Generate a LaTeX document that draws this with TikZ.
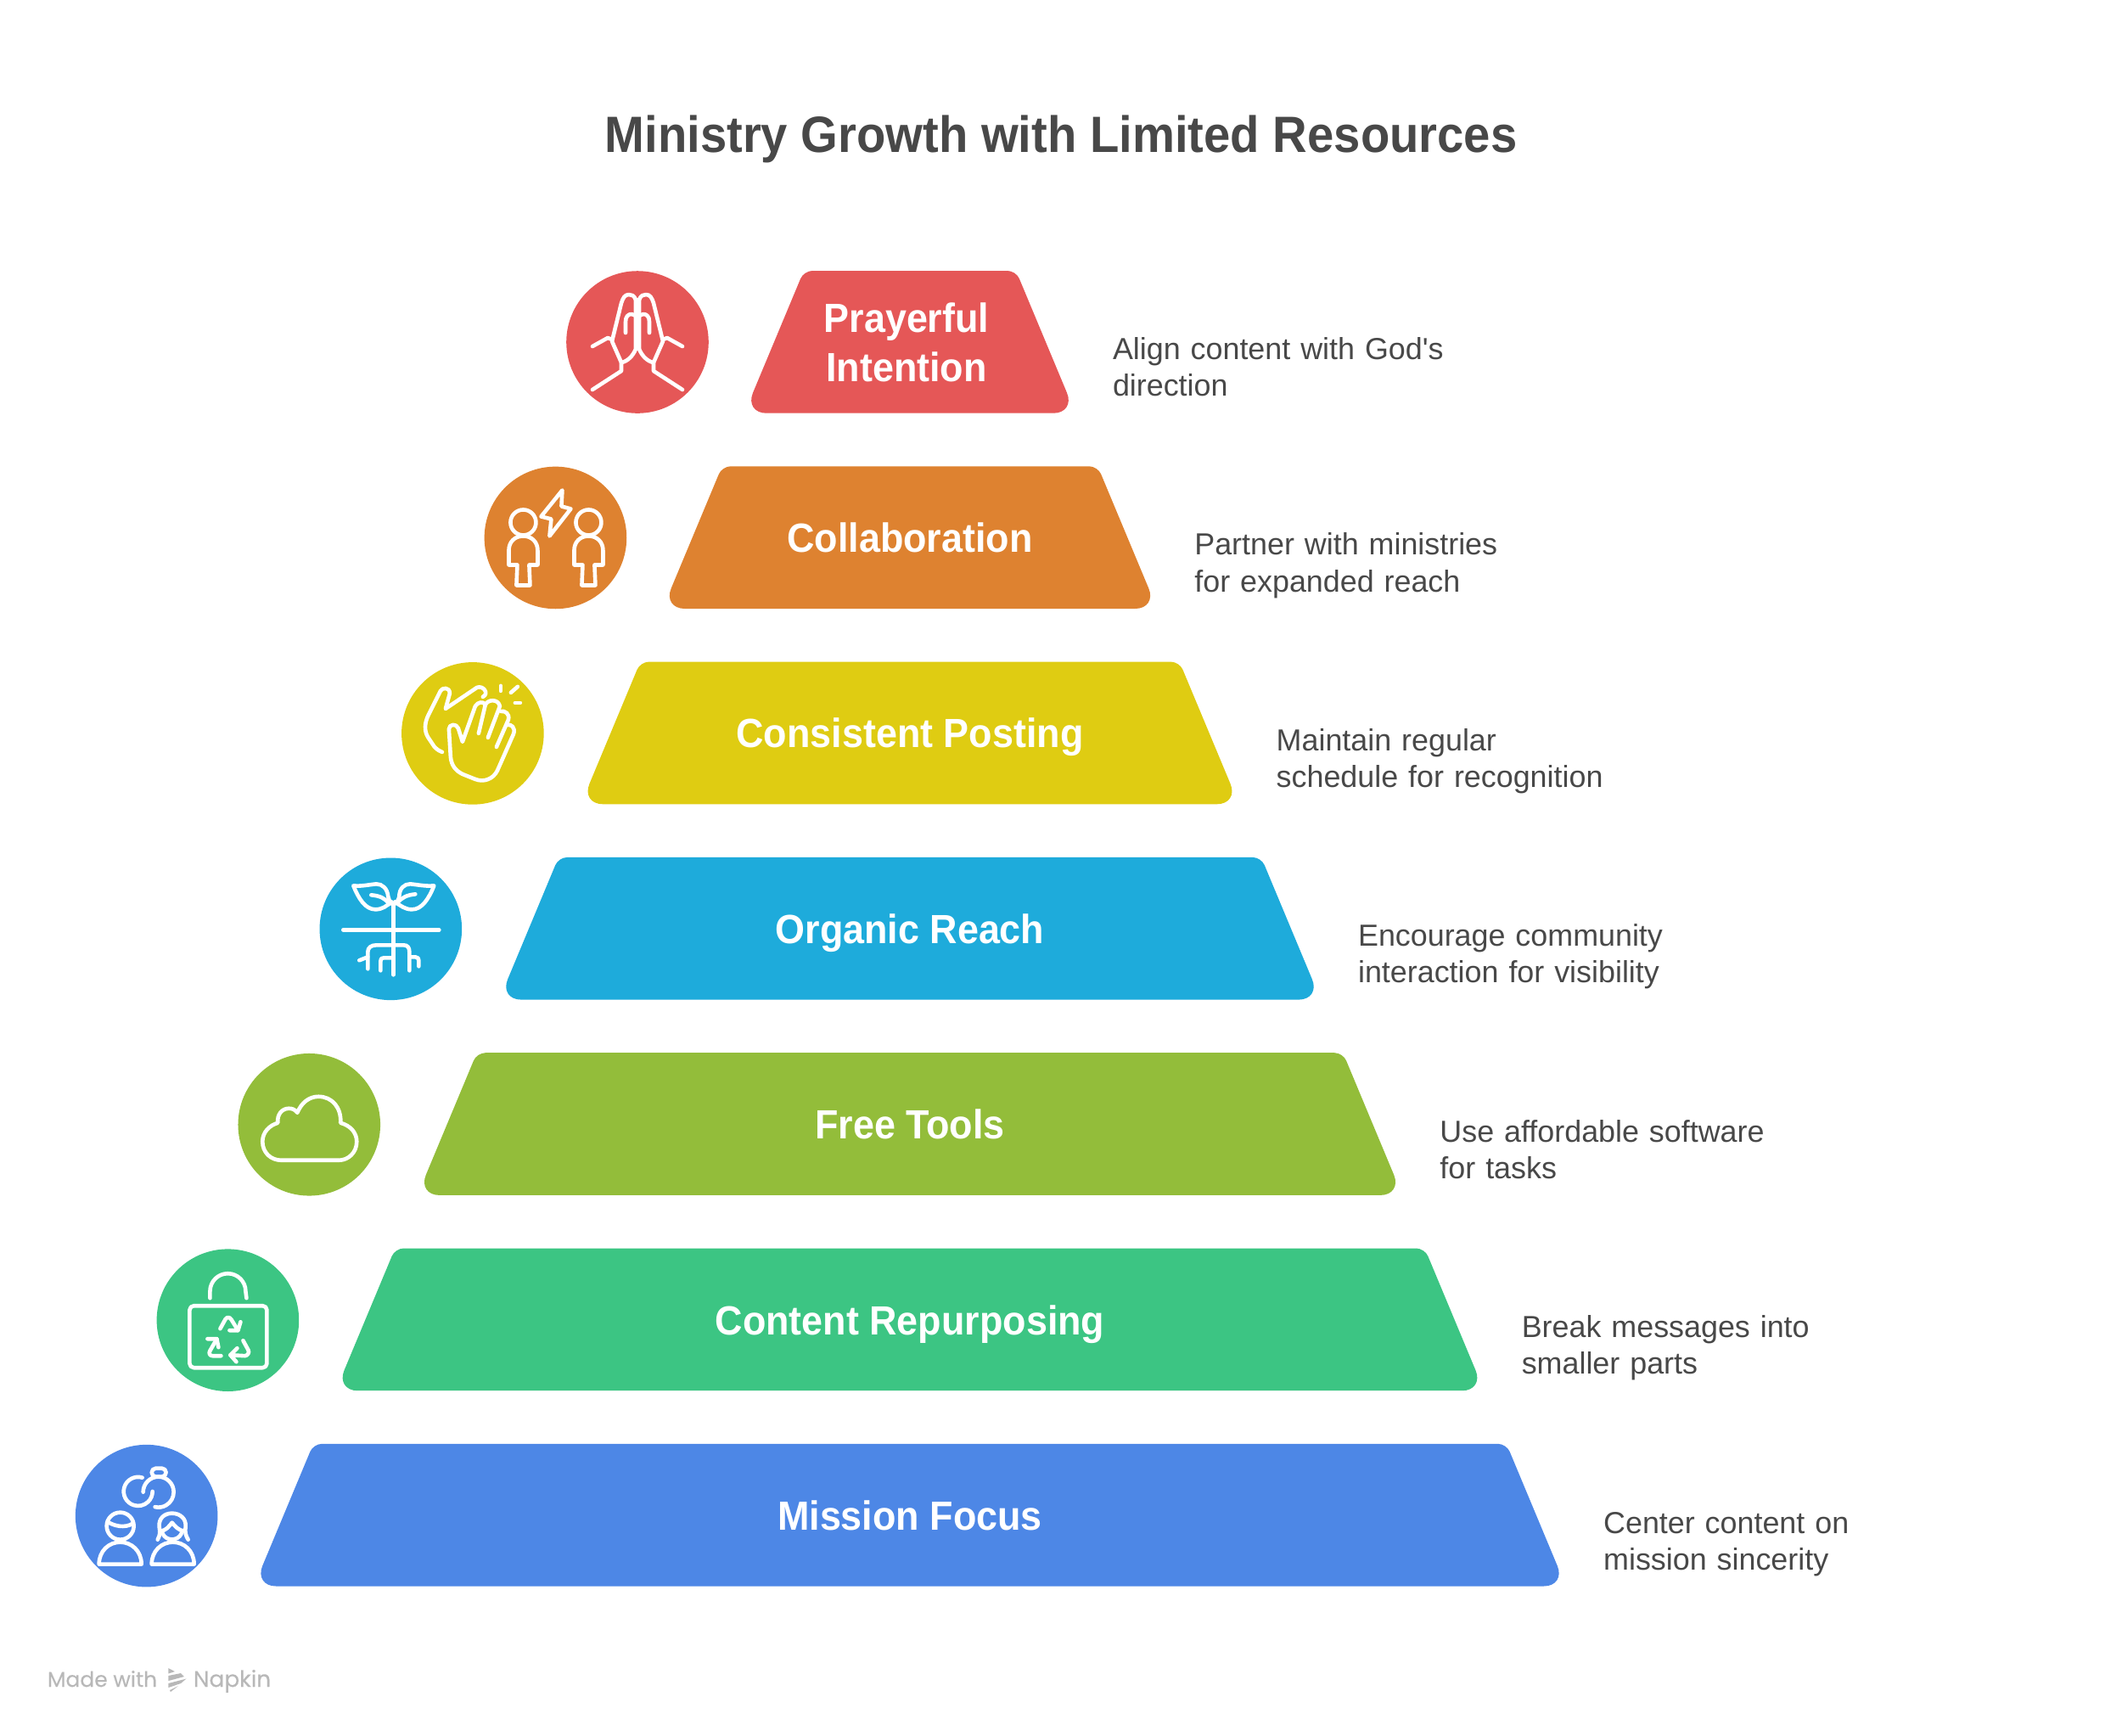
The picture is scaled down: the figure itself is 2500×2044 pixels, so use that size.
\documentclass[tikz,border=0pt]{standalone}
\usepackage{fontspec}
\newfontfamily\notefont[WordSpace=0.92]{Liberation Sans}
\newfontfamily\boldfont[FakeStretch=0.935]{Liberation Sans Bold}
\newfontfamily\napkinfont[FakeBold=0.4]{Poppins}
\usetikzlibrary{positioning}
\definecolor{prayercolor}{RGB}{229,87,87}
\definecolor{collabcolor}{RGB}{222,130,48}
\definecolor{postingcolor}{RGB}{223,204,18}
\definecolor{reachcolor}{RGB}{30,171,219}
\definecolor{toolscolor}{RGB}{147,189,58}
\definecolor{repurposecolor}{RGB}{60,197,131}
\definecolor{missioncolor}{RGB}{77,135,230}
\definecolor{inkcolor}{RGB}{72,72,72}
\definecolor{brandcolor}{RGB}{184,184,184}

\begin{document}
\begin{tikzpicture}[x=0.01cm, y=-0.01cm, outer sep=0pt,
    heading/.style={font=\boldfont\fontsize{17.1}{20}\selectfont, text=inkcolor, inner sep=0pt},
    tier/.style={font=\boldfont\fontsize{13.65}{16.4}\selectfont, text=white, align=center, inner sep=0pt, minimum height=1.68cm, text height=0.4cm, text depth=0.06cm},
    badge/.style={circle, inner sep=0pt, minimum size=1.675cm},
    note/.style={font=\notefont\fontsize{10.2}{12.27}\selectfont, text=inkcolor, align=left, text width=4.6cm, inner sep=0pt, minimum height=1cm, text height=0.27cm, text depth=0.44cm},
    brand/.style={font=\napkinfont\fontsize{7.5}{10}\selectfont, text=brandcolor, inner sep=0pt},
    icon/.style={draw=white, line width=0.046cm, line cap=round, line join=round}]

    \useasboundingbox (0,0) rectangle (2500,2044);

    % tiers, top to bottom
    \fill [prayercolor] (1072,319) [rounded corners=0.1cm] -- (1197,319) [rounded corners=0.26cm] -- (1267,486.7) -- (877,486.7) [rounded corners=0.1cm] -- (947,319) -- cycle;
    \fill [collabcolor] (1072,549.3) [rounded corners=0.1cm] -- (1293.3,549.3) [rounded corners=0.26cm] -- (1363.3,717) -- (780.7,717) [rounded corners=0.1cm] -- (850.7,549.3) -- cycle;
    \fill [postingcolor] (1072,779.6) [rounded corners=0.1cm] -- (1389.6,779.6) [rounded corners=0.26cm] -- (1459.6,947.3) -- (684.4,947.3) [rounded corners=0.1cm] -- (754.4,779.6) -- cycle;
    \fill [reachcolor] (1072,1009.9) [rounded corners=0.1cm] -- (1485.9,1009.9) [rounded corners=0.26cm] -- (1555.9,1177.6) -- (588.1,1177.6) [rounded corners=0.1cm] -- (658.1,1009.9) -- cycle;
    \fill [toolscolor] (1072,1240.2) [rounded corners=0.1cm] -- (1582.2,1240.2) [rounded corners=0.26cm] -- (1652.2,1407.9) -- (491.8,1407.9) [rounded corners=0.1cm] -- (561.8,1240.2) -- cycle;
    \fill [repurposecolor] (1072,1470.5) [rounded corners=0.1cm] -- (1678.5,1470.5) [rounded corners=0.26cm] -- (1748.5,1638.2) -- (395.5,1638.2) [rounded corners=0.1cm] -- (465.5,1470.5) -- cycle;
    \fill [missioncolor] (1072,1700.8) [rounded corners=0.1cm] -- (1774.8,1700.8) [rounded corners=0.26cm] -- (1844.8,1868.5) -- (299.2,1868.5) [rounded corners=0.1cm] -- (369.2,1700.8) -- cycle;

    \node [heading, anchor=base] (title) at (1250,179) {Ministry Growth with Limited Resources};

    \node [tier, text height=, text depth=] (prayer) at (1068,403) {Prayerful\\Intention};
    \node [tier, below=0.623cm of prayer, xshift=0.04cm] (collab) {Collaboration};
    \node [tier, below=0.623cm of collab] (posting) {Consistent Posting};
    \node [tier, below=0.623cm of posting] (reach) {Organic Reach};
    \node [tier, below=0.623cm of reach] (tools) {Free Tools};
    \node [tier, below=0.623cm of tools] (repurpose) {Content Repurposing};
    \node [tier, below=0.623cm of repurpose] (mission) {Mission Focus};

    \node [badge, fill=prayercolor] (prayerbadge) at (751,403) {};
    \node [badge, fill=collabcolor, below=0.628cm of prayerbadge, xshift=-0.965cm] (collabbadge) {};
    \node [badge, fill=postingcolor, below=0.628cm of collabbadge, xshift=-0.975cm] (postingbadge) {};
    \node [badge, fill=reachcolor, below=0.628cm of postingbadge, xshift=-0.965cm] (reachbadge) {};
    \node [badge, fill=toolscolor, below=0.628cm of reachbadge, xshift=-0.96cm] (toolsbadge) {};
    \node [badge, fill=repurposecolor, below=0.628cm of toolsbadge, xshift=-0.958cm] (repurposebadge) {};
    \node [badge, fill=missioncolor, below=0.628cm of repurposebadge, xshift=-0.957cm] (missionbadge) {};

    \node [note, anchor=west] (prayernote) at (1311,432) {Align content with God's\\direction};
    \node [note, below=1.303cm of prayernote, xshift=0.963cm] (collabnote) {Partner with ministries\\for expanded reach};
    \node [note, below=1.303cm of collabnote, xshift=0.963cm] (postingnote) {Maintain regular\\schedule for recognition};
    \node [note, below=1.303cm of postingnote, xshift=0.963cm] (reachnote) {Encourage community\\interaction for visibility};
    \node [note, below=1.303cm of reachnote, xshift=0.963cm] (toolsnote) {Use affordable software\\for tasks};
    \node [note, below=1.303cm of toolsnote, xshift=0.963cm] (repurposenote) {Break messages into\\smaller parts};
    \node [note, below=1.303cm of repurposenote, xshift=0.963cm] (missionnote) {Center content on\\mission sincerity};

    % praying hands
    \begin{scope}[shift={(prayerbadge.center)}, icon]
        \draw (-2,-50) -- (-2,8) .. controls (-5,16) and (-12,23) .. (-19,24);
        \draw (2,-50) -- (2,8) .. controls (5,16) and (12,23) .. (19,24);
        \draw (-2,-50) .. controls (-4,-55) and (-7,-56) .. (-10,-56) .. controls (-15,-56) and (-17,-52) .. (-19,-46) -- (-30,-1) -- (-19,24) -- (-19,34) -- (-53,56);
        \draw (2,-50) .. controls (4,-55) and (7,-56) .. (10,-56) .. controls (15,-56) and (17,-52) .. (19,-46) -- (30,-1) -- (19,24) -- (19,34) -- (53,56);
        \draw (-30,-3) -- (-35,-5) -- (-53,5);
        \draw (30,-3) -- (35,-5) -- (53,5);
        \draw (-14,-11) -- (-14,-24) .. controls (-14,-30) and (-11,-33) .. (-7,-33) .. controls (-4,-33) and (-2,-31) .. (0,-28);
        \draw (14,-11) -- (14,-24) .. controls (14,-30) and (11,-33) .. (7,-33) .. controls (4,-33) and (2,-31) .. (0,-28);
    \end{scope}

    % two people and a bolt
    \begin{scope}[shift={(collabbadge.center)}, icon]
        \draw (-38,-18) circle (15);
        \draw (39,-18) circle (15);
        \draw (-55,32) -- (-55,15) .. controls (-55,5) and (-48,-2) .. (-38,-2) .. controls (-28,-2) and (-21,5) .. (-21,15) -- (-21,32) -- (-31,32) -- (-30,56) -- (-46,56) -- (-45,32) -- cycle;
        \draw (22,32) -- (22,15) .. controls (22,5) and (29,-2) .. (39,-2) .. controls (49,-2) and (56,5) .. (56,15) -- (56,32) -- (46,32) -- (47,56) -- (31,56) -- (32,32) -- cycle;
        \draw (8,-56) -- (-17,-25) -- (-5,-22) -- (-7,-2) -- (18,-34) -- (7,-37) -- cycle;
    \end{scope}

    % clapping hands
    \begin{scope}[shift={(postingbadge.center)}, icon]
        \draw (-36,22) .. controls (-41,20) and (-43,18) .. (-45,16) -- (-53,4) .. controls (-57,-3) and (-57,-12) .. (-52,-22) -- (-38,-50) .. controls (-36,-54) and (-27,-55) .. (-27,-47) -- (-32,-29) -- (5,-54) .. controls (12,-57) and (20,-47) .. (12,-43);
        \draw (7,0) -- (15,-34) -- (15,-34) .. controls (12,-38) and (6,-37) .. (3,-32) -- (-12,10) -- (-17,-6) .. controls (-19,-12) and (-28,-11) .. (-28,-5) -- (-26,28) .. controls (-25,38) and (-20,44) .. (-12,48) -- (3,54) .. controls (13,58) and (24,54) .. (29,44) -- (48,1) .. controls (51,-7) and (45,-11) .. (41,-10);
        \draw (15,-34) .. controls (18,-40) and (30,-41) .. (32,-32) -- (18,5);
        \draw (33,-26) .. controls (38,-27) and (44,-23) .. (42,-16) -- (28,16);
        \draw (33,-56) -- (33,-50);
        \draw (45,-48) -- (53,-55);
        \draw (50,-36) -- (56,-36);
    \end{scope}

    % seedling and roots
    \begin{scope}[shift={(reachbadge.center)}, icon]
        \draw (-56,1) -- (57,1);
        \draw (3,-28) -- (3,54);
        \draw (3,-28) -- (1,-30) .. controls (-1,-33) and (-3,-35) .. (-3,-38) .. controls (-4,-48) and (-10,-53) .. (-17,-53) .. controls (-27,-52) and (-35,-50) .. (-44,-51) .. controls (-38,-36) and (-30,-23) .. (-18,-23) .. controls (-10,-23) and (-5,-27) .. (1,-32);
        \draw (3,-28) -- (5,-30) .. controls (8,-33) and (10,-35) .. (10,-38) .. controls (10,-48) and (16,-53) .. (23,-53) .. controls (33,-52) and (42,-50) .. (51,-51) .. controls (45,-36) and (37,-23) .. (25,-23) .. controls (17,-23) and (12,-27) .. (5,-32);
        \draw (-23,-40) .. controls (-12,-39) and (-7,-36) .. (-2,-30);
        \draw (29,-41) .. controls (19,-40) and (13,-37) .. (8,-31);
        \draw (-37,37) -- (-27,33);
        \draw (-27,47) -- (-27,27) .. controls (-27,22) and (-23,19) .. (-17,19) -- (15,19) .. controls (20,19) and (22,22) .. (22,27) -- (22,49);
        \draw (22,33) -- (29,33) .. controls (32,33) and (33,35) .. (33,37) -- (33,44);
        \draw (-12,49) -- (-12,38) .. controls (-12,35) and (-11,34) .. (-8,34) -- (3,34);
    \end{scope}

    % cloud
    \begin{scope}[shift={(toolsbadge.center)}, icon]
        \draw (-33,42) .. controls (-45,42) and (-55,33) .. (-55,20) .. controls (-55,9) and (-47,1) .. (-37,-2) .. controls (-38,-12) and (-32,-19) .. (-24,-19) .. controls (-20,-19) and (-17,-18) .. (-14,-14) .. controls (-9,-26) and (0,-33) .. (11,-33) .. controls (27,-33) and (38,-20) .. (37,-2) .. controls (48,1) and (56,9) .. (56,20) .. controls (56,33) and (46,42) .. (35,42) -- cycle;
    \end{scope}

    % bag with recycling arrows
    \begin{scope}[shift={(repurposebadge.center)}, icon]
        \draw [rounded corners=0.05cm] (-45,-17) rectangle (46,56);
        \draw (-21,-26) -- (-21,-34) arc [start angle=180, end angle=360, radius=21] -- (22,-26);
        \draw (-9,10) -- (-3,-1) .. controls (-1,-4) and (2,-4) .. (4,-1) -- (12,12);
        \draw (2,12) -- (12,12) -- (15,2);
        \draw (-24,22) -- (-13,22) -- (-11,32);
        \draw (-13,22) -- (-21,36) .. controls (-23,39) and (-21,42) .. (-18,42) -- (-8,42);
        \draw (18,24) -- (24,35) .. controls (26,38) and (23,42) .. (20,42) -- (3,41);
        \draw (11,33) -- (3,41) -- (10,49);
    \end{scope}

    % couple with rings
    \begin{scope}[shift={(missionbadge.center)}, icon]
        \draw (-5,-45) arc [start angle=287, end angle=0, radius=17];
        \draw (-4,-28) arc [start angle=180, end angle=463, radius=18];
        \draw [rounded corners=0.05cm] (6,-56) rectangle (23,-46);
        \draw (-31,12) circle (16);
        \draw (-46,7) .. controls (-38,12) and (-26,15) .. (-16,9);
        \draw (-56,57) .. controls (-56,41) and (-44,31) .. (-31,31) .. controls (-18,31) and (-6,41) .. (-6,57) -- cycle;
        \draw (6,57) .. controls (6,41) and (18,31) .. (31,31) .. controls (44,31) and (56,41) .. (56,57) -- cycle;
        \draw (13,28) .. controls (16,23) and (16,19) .. (15,13) .. controls (14,3) and (21,-3) .. (30,-3) .. controls (39,-3) and (47,3) .. (46,13) .. controls (45,19) and (46,23) .. (49,28);
        \draw (17,18) .. controls (23,17) and (26,13) .. (30,8) .. controls (34,13) and (38,17) .. (44,18);
        \draw (19,21) .. controls (23,30) and (37,30) .. (41,21);
    \end{scope}

    % maker's mark
    \node [brand, font=\napkinfont\fontsize{7.1}{10}\selectfont, anchor=base west] (made) at (56,1987) {Made with};
    \node [brand, anchor=base west] (napkin) at (228,1987) {Napkin};
    \fill [brandcolor] (198.3,1965) -- (206,1969) -- (198.3,1971.5) -- cycle;
    \fill [brandcolor] (198.3,1974) -- (213,1971) -- (217,1975) -- (198.3,1980) -- cycle;
    \fill [brandcolor] (198.3,1983) -- (219.5,1977.5) -- (213,1983) -- (198.3,1988) -- cycle;
    \fill [brandcolor] (200,1991) -- (210,1986) -- (201,1993) -- cycle;
\end{tikzpicture}
\end{document}
